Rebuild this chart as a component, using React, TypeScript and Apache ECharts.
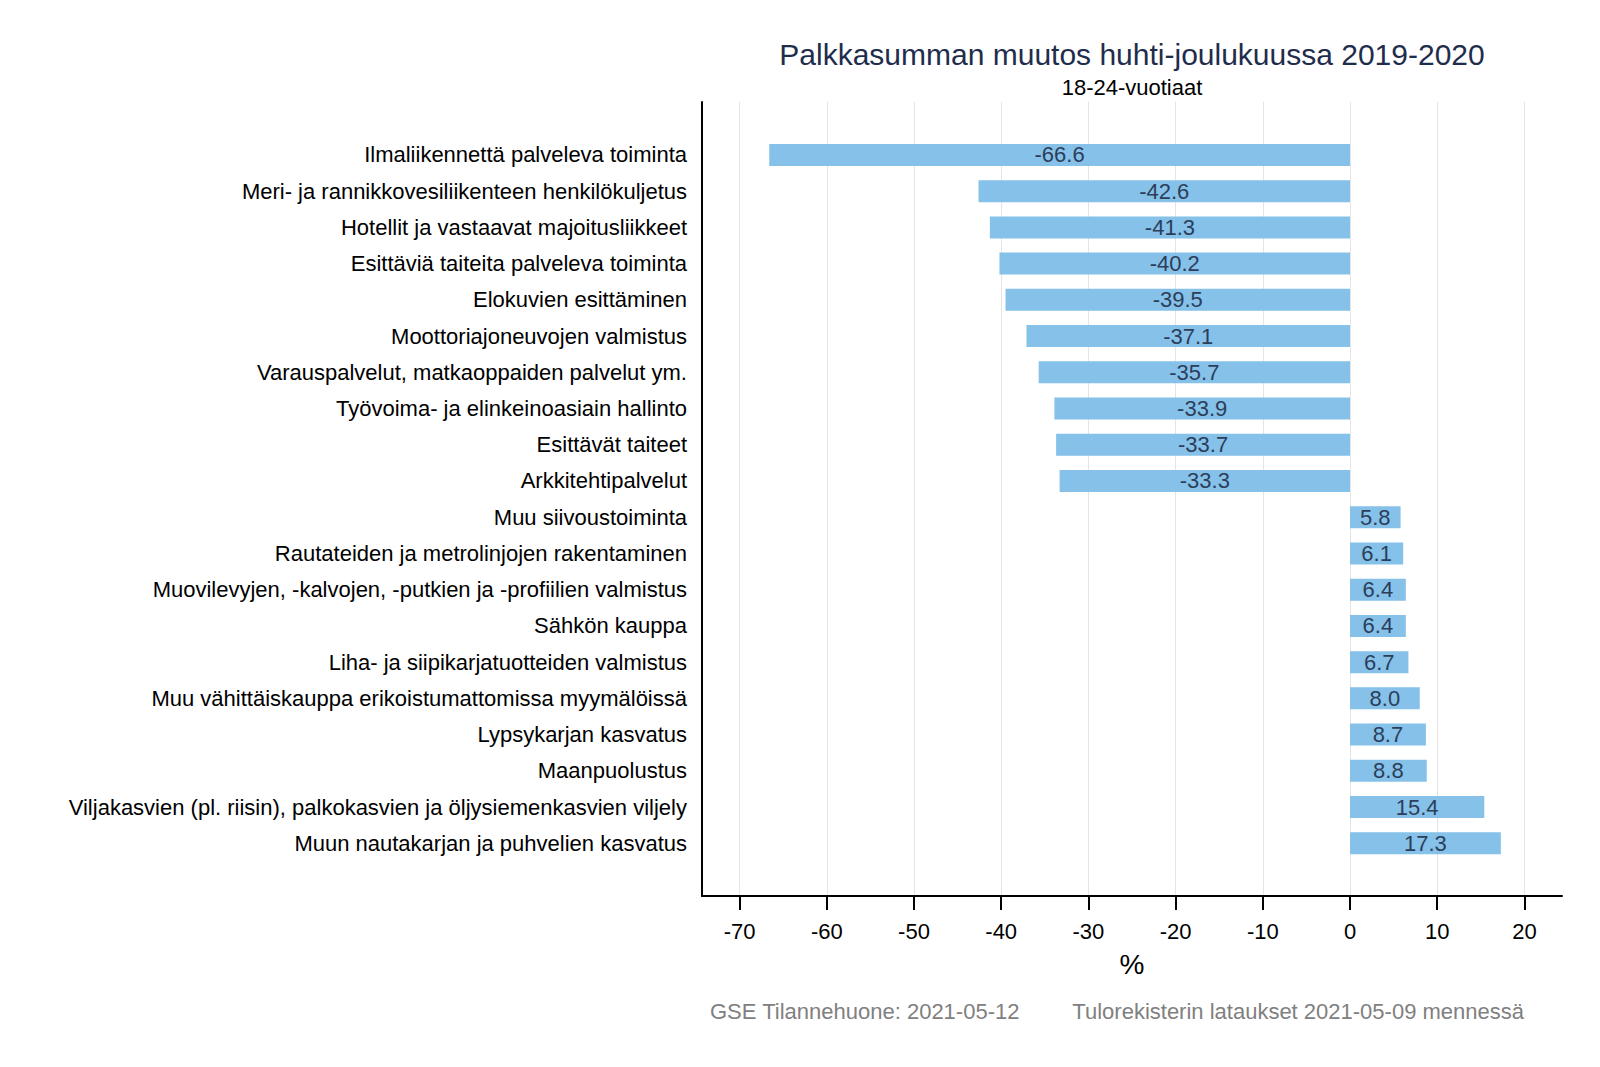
import React, { useEffect, useRef } from "react";
import * as echarts from "echarts";

const categories = [
  "Ilmaliikennettä palveleva toiminta",
  "Meri- ja rannikkovesiliikenteen henkilökuljetus",
  "Hotellit ja vastaavat majoitusliikkeet",
  "Esittäviä taiteita palveleva toiminta",
  "Elokuvien esittäminen",
  "Moottoriajoneuvojen valmistus",
  "Varauspalvelut, matkaoppaiden palvelut ym.",
  "Työvoima- ja elinkeinoasiain hallinto",
  "Esittävät taiteet",
  "Arkkitehtipalvelut",
  "Muu siivoustoiminta",
  "Rautateiden ja metrolinjojen rakentaminen",
  "Muovilevyjen, -kalvojen, -putkien ja -profiilien valmistus",
  "Sähkön kauppa",
  "Liha- ja siipikarjatuotteiden valmistus",
  "Muu vähittäiskauppa erikoistumattomissa myymälöissä",
  "Lypsykarjan kasvatus",
  "Maanpuolustus",
  "Viljakasvien (pl. riisin), palkokasvien ja öljysiemenkasvien viljely",
  "Muun nautakarjan ja puhvelien kasvatus",
];

const values = [
  -66.6, -42.6, -41.3, -40.2, -39.5, -37.1, -35.7, -33.9, -33.7, -33.3,
  5.8, 6.1, 6.4, 6.4, 6.7, 8.0, 8.7, 8.8, 15.4, 17.3,
];

const xMin = -70;
const xMax = 20;
const xInterval = 10;

const titleText = "Palkkasumman muutos huhti-joulukuussa 2019-2020";
const subtitleText = "18-24-vuotiaat";
const axisNameText = "%";
const footerLeft = "GSE Tilannehuone: 2021-05-12";
const footerRight = "Tulorekisterin lataukset 2021-05-09 mennessä";

const FONT = "'Liberation Sans', Arial, sans-serif";

export default function App() {
  const ref = useRef<HTMLDivElement>(null);

  useEffect(() => {
    if (!ref.current) return;
    const chart = echarts.init(ref.current, undefined, { renderer: "svg" });

    const scaleLeft = 739.6;
    const scaleWidth = 784.8;
    const plotTop = 102;
    const plotHeight = 794;
    const frameLeft = 702;
    const frameWidth = 860;
    const barTop = 136.8;
    const barHeight = 724.6;

    chart.setOption({
      animation: false,
      textStyle: { fontFamily: FONT },
      grid: [
        { left: scaleLeft, width: scaleWidth, top: barTop, height: barHeight },
        { left: scaleLeft, width: scaleWidth, top: plotTop, height: plotHeight },
        { left: frameLeft, width: frameWidth, top: plotTop, height: plotHeight },
      ],
      xAxis: [
        {
          gridIndex: 0,
          type: "value",
          min: xMin,
          max: xMax,
          interval: xInterval,
          show: false,
        },
        {
          gridIndex: 1,
          type: "value",
          min: xMin,
          max: xMax,
          interval: xInterval,
          position: "bottom",
          axisLine: { show: false, onZero: false },
          axisTick: { show: true, length: 14, lineStyle: { color: "#000", width: 2 } },
          axisLabel: { fontSize: 22, color: "#000", margin: 24, fontFamily: FONT },
          splitLine: { show: true, lineStyle: { color: "#e4e4e4", width: 1 } },
        },
        {
          gridIndex: 2,
          type: "value",
          min: 0,
          max: 1,
          position: "bottom",
          axisLine: { show: true, onZero: false, lineStyle: { color: "#000", width: 2 } },
          axisTick: { show: false },
          axisLabel: { show: false },
          splitLine: { show: false },
        },
      ],
      yAxis: [
        {
          gridIndex: 0,
          type: "category",
          data: categories,
          inverse: true,
          axisLine: { show: false, onZero: false },
          axisTick: { show: false },
          axisLabel: {
            fontSize: 22,
            color: "#000",
            margin: scaleLeft - 687,
            fontFamily: FONT,
          },
          splitLine: { show: false },
        },
        {
          gridIndex: 1,
          type: "value",
          min: 0,
          max: 1,
          show: false,
        },
        {
          gridIndex: 2,
          type: "value",
          min: 0,
          max: 1,
          position: "left",
          axisLine: { show: true, onZero: false, lineStyle: { color: "#000", width: 2 } },
          axisTick: { show: false },
          axisLabel: { show: false },
          splitLine: { show: false },
        },
      ],
      series: [
        {
          type: "bar",
          xAxisIndex: 0,
          yAxisIndex: 0,
          data: values,
          barWidth: 22,
          itemStyle: { color: "#85C1E9" },
          label: {
            show: true,
            position: "inside",
            color: "#2c3e5a",
            fontSize: 22,
            fontFamily: FONT,
            formatter: (p: any) => Number(p.value).toFixed(1),
          },
        },
      ],
      graphic: [
        {
          type: "text",
          x: 1132,
          y: 54,
          style: {
            text: titleText,
            fontSize: 30,
            fontFamily: FONT,
            fill: "#1f2d4d",
            textAlign: "center",
            textVerticalAlign: "middle",
          },
        },
        {
          type: "text",
          x: 1132,
          y: 87,
          style: {
            text: subtitleText,
            fontSize: 22,
            fontFamily: FONT,
            fill: "#000",
            textAlign: "center",
            textVerticalAlign: "middle",
          },
        },
        {
          type: "text",
          x: 1132,
          y: 964,
          style: {
            text: axisNameText,
            fontSize: 28,
            fontFamily: FONT,
            fill: "#000",
            textAlign: "center",
            textVerticalAlign: "middle",
          },
        },
        {
          type: "text",
          x: 710,
          y: 1011,
          style: {
            text: footerLeft,
            fontSize: 22,
            fontFamily: FONT,
            fill: "#808080",
            textAlign: "left",
            textVerticalAlign: "middle",
          },
        },
        {
          type: "text",
          x: 1524,
          y: 1011,
          style: {
            text: footerRight,
            fontSize: 22,
            fontFamily: FONT,
            fill: "#808080",
            textAlign: "right",
            textVerticalAlign: "middle",
          },
        },
      ],
    });

    return () => {
      chart.dispose();
    };
  }, []);

  return (
    <div
      ref={ref}
      style={{
        position: "fixed",
        left: 0,
        top: 0,
        width: 1600,
        height: 1067,
        background: "#fff",
      }}
    />
  );
}
